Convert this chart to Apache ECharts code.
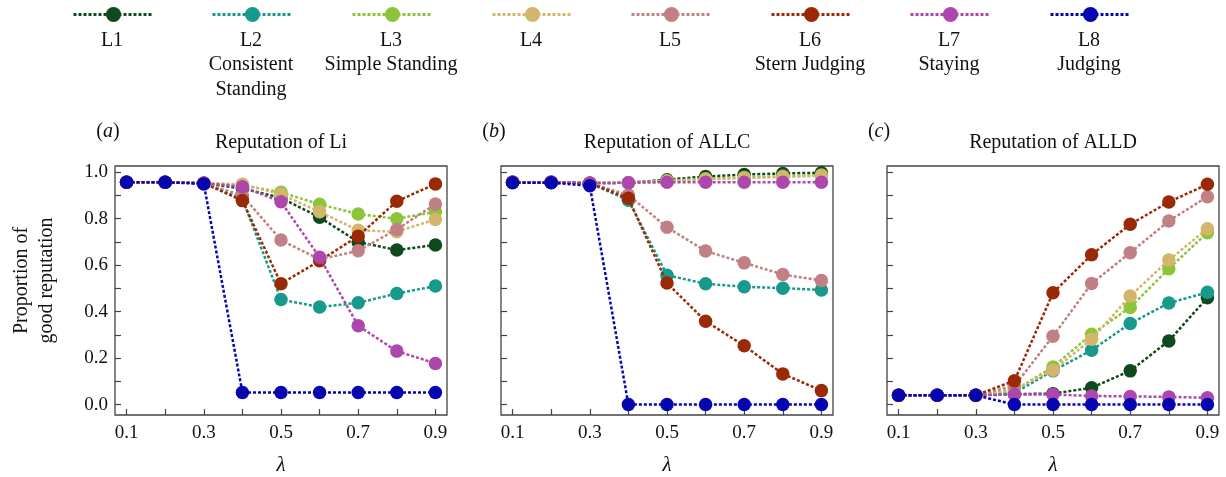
<!DOCTYPE html>
<html>
<head>
<meta charset="utf-8">
<script src="https://cdn.jsdelivr.net/npm/echarts@6/dist/echarts.min.js"></script>
<style>
html,body{margin:0;padding:0;background:#fff;}
#chart{width:1226px;height:477px;}
</style>
</head>
<body>
<div id="chart"></div>
<script>
// ---- data ----
const lambda = [0.1, 0.2, 0.3, 0.4, 0.5, 0.6, 0.7, 0.8, 0.9];
const seriesNames = ['L1', 'L2', 'L3', 'L4', 'L5', 'L6', 'L7', 'L8'];
const legendLabels = ['L1', 'L2\nConsistent\nStanding', 'L3\nSimple Standing', 'L4', 'L5', 'L6\nStern Judging', 'L7\nStaying', 'L8\nJudging'];
const panelTitles = ['Reputation of Li', 'Reputation of ALLC', 'Reputation of ALLD'];
const panelLetters = ['a', 'b', 'c'];
const xTickValues = [0.1, 0.2, 0.3, 0.4, 0.5, 0.6, 0.7, 0.8, 0.9];
const xLabelValues = [0.1, 0.3, 0.5, 0.7, 0.9];
const yTickValues = [0, 0.1, 0.2, 0.3, 0.4, 0.5, 0.6, 0.7, 0.8, 0.9, 1.0];
const yLabelValues = [0, 0.2, 0.4, 0.6, 0.8, 1.0];

// Panel (a): Reputation of Li
const liL1 = [0.957, 0.957, 0.953, 0.930, 0.890, 0.806, 0.700, 0.665, 0.687];
const liL2 = [0.957, 0.957, 0.953, 0.885, 0.452, 0.420, 0.438, 0.478, 0.510];
const liL3 = [0.957, 0.957, 0.953, 0.945, 0.914, 0.862, 0.820, 0.800, 0.830];
const liL4 = [0.957, 0.957, 0.953, 0.948, 0.905, 0.830, 0.750, 0.744, 0.797];
const liL5 = [0.957, 0.957, 0.953, 0.900, 0.708, 0.625, 0.662, 0.754, 0.863];
const liL6 = [0.957, 0.957, 0.953, 0.878, 0.520, 0.619, 0.725, 0.875, 0.950];
const liL7 = [0.957, 0.957, 0.953, 0.938, 0.873, 0.634, 0.339, 0.230, 0.177];
const liL8 = [0.957, 0.957, 0.950, 0.052, 0.052, 0.052, 0.052, 0.052, 0.052];

// Panel (b): Reputation of ALLC
const allcL1 = [0.957, 0.957, 0.953, 0.955, 0.968, 0.982, 0.990, 0.995, 0.998];
const allcL2 = [0.957, 0.957, 0.953, 0.880, 0.557, 0.520, 0.507, 0.501, 0.493];
const allcL3 = [0.957, 0.957, 0.953, 0.955, 0.963, 0.972, 0.978, 0.983, 0.988];
const allcL4 = [0.957, 0.957, 0.953, 0.955, 0.962, 0.970, 0.975, 0.980, 0.985];
const allcL5 = [0.957, 0.957, 0.953, 0.902, 0.763, 0.661, 0.610, 0.560, 0.534];
const allcL6 = [0.957, 0.957, 0.953, 0.888, 0.523, 0.359, 0.253, 0.132, 0.060];
const allcL7 = [0.957, 0.957, 0.953, 0.955, 0.957, 0.957, 0.957, 0.957, 0.957];
const allcL8 = [0.955, 0.955, 0.942, 0.000, 0.000, 0.000, 0.000, 0.000, 0.000];

// Panel (c): Reputation of ALLD
const alldL1 = [0.040, 0.040, 0.040, 0.045, 0.047, 0.072, 0.145, 0.274, 0.460];
const alldL2 = [0.040, 0.040, 0.040, 0.050, 0.145, 0.234, 0.349, 0.437, 0.483];
const alldL3 = [0.040, 0.040, 0.040, 0.060, 0.162, 0.303, 0.418, 0.585, 0.740];
const alldL4 = [0.040, 0.040, 0.040, 0.065, 0.148, 0.281, 0.467, 0.622, 0.757];
const alldL5 = [0.040, 0.040, 0.040, 0.080, 0.294, 0.521, 0.654, 0.790, 0.895];
const alldL6 = [0.040, 0.040, 0.040, 0.102, 0.481, 0.645, 0.776, 0.872, 0.948];
const alldL7 = [0.040, 0.040, 0.040, 0.043, 0.043, 0.037, 0.035, 0.033, 0.029];
const alldL8 = [0.040, 0.040, 0.040, 0.000, 0.000, 0.000, 0.000, 0.000, 0.000];

const panels = [
  [liL1, liL2, liL3, liL4, liL5, liL6, liL7, liL8],
  [allcL1, allcL2, allcL3, allcL4, allcL5, allcL6, allcL7, allcL8],
  [alldL1, alldL2, alldL3, alldL4, alldL5, alldL6, alldL7, alldL8]
];

// ---- styling ----
const colors = ['#0e4a1d', '#17998b', '#8cc43a', '#d3b56c', '#c18083', '#992a05', '#ad47ad', '#0606b0'];
const FONT = '"Liberation Serif", "DejaVu Serif", serif';
const gridLefts = [115, 501, 887];
const gridW = 332, gridTop = 166, gridH = 249;
const legendCenters = [112, 251, 391, 531, 670, 810, 949, 1089];

const grids = gridLefts.map(l => ({left: l, top: gridTop, width: gridW, height: gridH, show: true, borderColor: '#444', borderWidth: 1.3, backgroundColor: 'transparent', containLabel: false, outerBoundsMode: 'none'}));

const xAxes = gridLefts.map((l, p) => ({
  type: 'value', gridIndex: p, min: 0.07, max: 0.93,
  name: 'λ', nameLocation: 'middle', nameGap: 40,
  nameTextStyle: {fontFamily: FONT, fontStyle: 'italic', fontSize: 21, color: '#111'},
  axisLine: {show: false, onZero: false},
  splitLine: {show: false},
  axisTick: {show: true, inside: true, length: 6, customValues: xTickValues, lineStyle: {color: '#444', width: 1.2}},
  axisLabel: {show: true, customValues: xLabelValues, margin: 9, fontFamily: FONT, fontSize: 19, color: '#111', formatter: v => v.toFixed(1)}
}));

const yAxes = gridLefts.map((l, p) => ({
  type: 'value', gridIndex: p, min: -0.045, max: 1.027,
  name: p === 0 ? 'Proportion of\ngood reputation' : '', nameLocation: 'middle', nameGap: 56, nameRotate: 90,
  nameTextStyle: {fontFamily: FONT, fontSize: 20, color: '#111', lineHeight: 25, padding: [0, 0, 0, 20]},
  axisLine: {show: false, onZero: false},
  splitLine: {show: false},
  axisTick: {show: true, inside: true, length: 6, customValues: yTickValues, lineStyle: {color: '#444', width: 1.2}},
  axisLabel: {show: p === 0, customValues: yLabelValues, margin: 7, fontFamily: FONT, fontSize: 19, color: '#111', formatter: v => v.toFixed(1)}
}));

const series = [];
panels.forEach((lines, p) => {
  lines.forEach((vals, i) => {
    series.push({
      type: 'line', name: seriesNames[i], xAxisIndex: p, yAxisIndex: p,
      data: lambda.map((x, k) => [x, vals[k]]),
      symbol: 'circle', symbolSize: 13.5, showSymbol: true,
      lineStyle: {color: colors[i], width: 2.5, type: [3, 2]},
      itemStyle: {color: colors[i]},
      emphasis: {disabled: true}, silent: true, z: 2 + i
    });
  });
});

const legends = seriesNames.map((n, i) => ({
  data: [n], left: legendCenters[i] - 40, top: 5, itemWidth: 80, itemHeight: 19,
  itemGap: 0, formatter: () => '', selectedMode: false, padding: 0,
  lineStyle: {width: 3, type: [3, 2]},
  textStyle: {fontSize: 1}
}));

const graphics = [];
legendLabels.forEach((t, i) => {
  graphics.push({type: 'text', x: legendCenters[i], y: 28, silent: true,
    style: {text: t, font: '20px ' + FONT, fill: '#111', textAlign: 'center', textVerticalAlign: 'top', lineHeight: 24.5}});
});
panelTitles.forEach((t, p) => {
  graphics.push({type: 'text', x: gridLefts[p] + gridW / 2, y: 143, silent: true,
    style: {text: t, font: '20px ' + FONT, fill: '#111', textAlign: 'center', textVerticalAlign: 'middle'}});
});
const letterX = [108, 494, 879];
panelLetters.forEach((t, p) => {
  graphics.push({type: 'text', x: letterX[p], y: 132, silent: true,
    style: {text: '({i|' + t + '})', font: '20px ' + FONT, fill: '#111', textAlign: 'center', textVerticalAlign: 'middle',
      rich: {i: {fontStyle: 'italic', fontFamily: FONT, fontSize: 20, fill: '#111'}}}});
});

const chart = echarts.init(document.getElementById('chart'), null, {renderer: 'canvas'});
chart.setOption({
  animation: false,
  backgroundColor: '#fff',
  grid: grids,
  xAxis: xAxes,
  yAxis: yAxes,
  legend: legends,
  series: series,
  graphic: graphics
});
</script>
</body>
</html>
